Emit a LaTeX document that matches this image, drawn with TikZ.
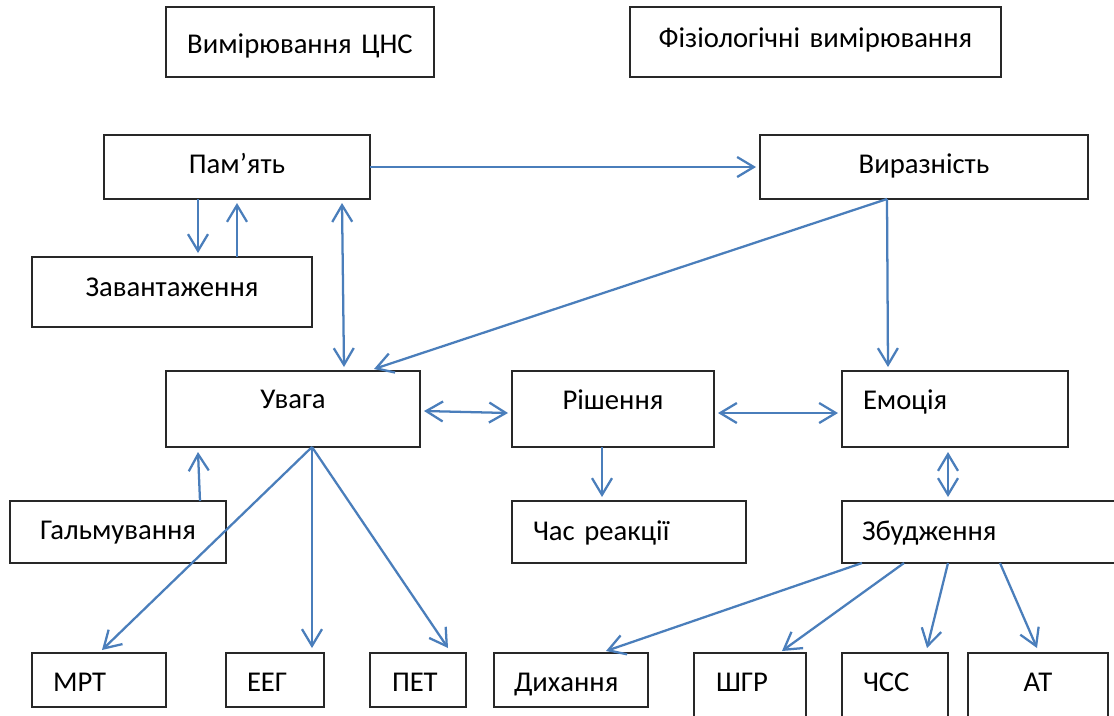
\documentclass[tikz,border=0pt]{standalone}
\usepackage{fontspec}
\setmainfont{Carlito}
\usetikzlibrary{arrows.meta,calc}
\definecolor{arrowblue}{RGB}{74,126,187}
\definecolor{boxline}{RGB}{40,40,40}
\tikzset{
  box/.style={draw=boxline, line width=0.9pt, anchor=north west, inner ysep=0pt, outer sep=0pt,
    font=\fontsize{21.5}{26}\selectfont},
  ctr/.style={align=center, inner xsep=0pt},
  lft/.style={align=left},
  arr/.style={draw=arrowblue, line width=1.7pt, -{Straight Barb[length=12.5pt,width=15pt,line width=1.7pt]}},
  darr/.style={draw=arrowblue, line width=1.7pt, {Straight Barb[length=12.5pt,width=15pt,line width=1.7pt]}-{Straight Barb[length=12.5pt,width=15pt,line width=1.7pt]}}
}
\begin{document}
\begin{tikzpicture}[x=0.75pt,y=-0.75pt]
\useasboundingbox (0,0) rectangle (1114,715);
\fill[white] (0,0) rectangle (1114,715);
\clip (0,0) rectangle (1114,715);

% top title boxes
\node[box,ctr,minimum width=201pt,minimum height=52.5pt,text width=201pt,text height=34.5pt,text depth=18pt] (cns) at (166,7) {Вимірювання ЦНС};
\node[box,ctr,minimum width=278.25pt,minimum height=52.5pt,text width=278.25pt,text height=30pt,text depth=22.5pt] (phys) at (630,7) {Фізіологічні вимірювання};

% row 1
\node[box,ctr,minimum width=199.5pt,minimum height=48pt,text width=199.5pt,text height=28.5pt,text depth=19.5pt] (pam) at (104,135) {Пам’ять};
\node[box,ctr,minimum width=246pt,minimum height=48pt,text width=246pt,text height=28.5pt,text depth=19.5pt] (vyr) at (760,135) {Виразність};

% row 2
\node[box,ctr,minimum width=210pt,minimum height=52.5pt,text width=210pt,text height=29.25pt,text depth=23.25pt] (zav) at (32,257) {Завантаження};

% row 3
\node[box,ctr,minimum width=190.5pt,minimum height=57pt,text width=190.5pt,text height=27.75pt,text depth=29.25pt] (uvaga) at (166,371) {Увага};
\node[box,ctr,minimum width=151.5pt,minimum height=57pt,text width=151.5pt,text height=28.5pt,text depth=28.5pt] (rish) at (512,371) {Рішення};
\node[box,lft,inner xsep=15.75pt,minimum width=169.5pt,minimum height=57pt,text width=138pt,text height=28.5pt,text depth=28.5pt] (emo) at (842,371) {Емоція};

% row 4
\node[box,ctr,minimum width=162pt,minimum height=46.5pt,text width=162pt,text height=28.5pt,text depth=18pt] (galm) at (10,501) {Гальмування};
\node[box,lft,inner xsep=15.75pt,minimum width=175.5pt,minimum height=46.5pt,text width=144pt,text height=29.25pt,text depth=17.25pt] (chas) at (512,501) {Час реакції};
\node[box,lft,inner xsep=15pt,minimum width=211.5pt,minimum height=46.5pt,text width=181.5pt,text height=29.25pt,text depth=17.25pt] (zbud) at (842,501) {Збудження};

% bottom row
\node[box,lft,inner xsep=15.75pt,minimum width=100.5pt,minimum height=40.5pt,text width=69pt,text height=28.5pt,text depth=12pt] (mrt) at (32,653) {МРТ};
\node[box,lft,inner xsep=15.75pt,minimum width=73.5pt,minimum height=40.5pt,text width=42pt,text height=28.5pt,text depth=12pt] (eeg) at (226,653) {ЕЕГ};
\node[box,lft,inner xsep=16.5pt,minimum width=72pt,minimum height=40.5pt,text width=39pt,text height=28.5pt,text depth=12pt] (pet) at (370,653) {ПЕТ};
\node[box,lft,inner xsep=15pt,minimum width=115.5pt,minimum height=40.5pt,text width=85.5pt,text height=28.5pt,text depth=12pt] (dyh) at (494,653) {Дихання};
\node[box,lft,inner xsep=16.5pt,minimum width=84pt,minimum height=61.5pt,text width=51pt,text height=28.5pt,text depth=33pt] (shgr) at (694,653) {ШГР};
\node[box,lft,inner xsep=15.75pt,minimum width=79.5pt,minimum height=61.5pt,text width=48pt,text height=28.5pt,text depth=33pt] (chss) at (842,653) {ЧСС};
\node[box,ctr,minimum width=105pt,minimum height=61.5pt,text width=105pt,text height=28.5pt,text depth=33pt] (at) at (968,653) {АТ};

% connectors
\draw[arr] (pam.east) -- ($(vyr.west)+(-4,0)$);
\draw[arr] ($(pam.south west)+(94,0)$) -- ($(zav.north west)+(166,-4)$);
\draw[arr] ($(zav.north west)+(205,0)$) -- ($(pam.south west)+(133,4)$);
\draw[darr] ($(pam.south west)+(238,4)$) -- ($(uvaga.north west)+(178,-4)$);
\draw[arr] ($(vyr.south west)+(127,0)$) -- ($(uvaga.north west)+(208,-2)$);
\draw[arr] ($(vyr.south west)+(127,0)$) -- ($(emo.north west)+(46,-4)$);
\draw[darr] ($(uvaga.east)+(4,2)$) -- ($(rish.west)+(-4,4)$);
\draw[darr] ($(rish.east)+(4,4)$) -- ($(emo.west)+(-4,4)$);
\draw[arr] ($(rish.south west)+(90,0)$) -- ($(chas.north west)+(90,-4)$);
\draw[darr] ($(emo.south west)+(106,5)$) -- ($(zbud.north west)+(106,-4)$);
\draw[arr] ($(galm.north west)+(190,0)$) -- ($(uvaga.south west)+(32,5)$);
\draw[arr] ($(uvaga.south west)+(146,0)$) -- ($(mrt.north west)+(70,-3)$);
\draw[arr] ($(uvaga.south west)+(146,0)$) -- ($(eeg.north west)+(86,-5)$);
\draw[arr] ($(uvaga.south west)+(146,0)$) -- ($(pet.north west)+(78,-5)$);
\draw[arr] ($(zbud.south west)+(20,0)$) -- ($(dyh.north west)+(112,-2)$);
\draw[arr] ($(zbud.south west)+(62,0)$) -- ($(shgr.north west)+(88,-2)$);
\draw[arr] ($(zbud.south west)+(106,0)$) -- ($(chss.north west)+(85,-5)$);
\draw[arr] ($(zbud.south west)+(158,0)$) -- ($(at.north west)+(69,-5)$);
\end{tikzpicture}
\end{document}
